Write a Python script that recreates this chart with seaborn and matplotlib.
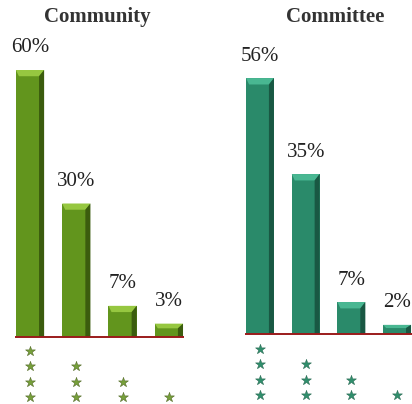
import matplotlib
matplotlib.use("Agg")
import matplotlib.pyplot as plt
import seaborn as sns
import pandas as pd
from matplotlib.patches import Polygon

# Response shares for each rating level (first level shown with four stars)
ratings = ["4 stars", "3 stars", "2 stars", "1 star"]
star_counts = [4, 3, 2, 1]
community_pct = [60, 30, 7, 3]
committee_pct = [56, 35, 7, 2]

sns.set_theme(style="white")
plt.rcParams["font.family"] = ["Liberation Serif", "DejaVu Serif"]

W, H = 412, 404
fig = plt.figure(figsize=(W / 100, H / 100), dpi=100)
fig.patch.set_facecolor("white")


def shade(ax, patch, light, dark):
    """Add a bevel look: light top cap and dark right side."""
    x, y = patch.get_x(), patch.get_y()
    w, h = patch.get_width(), patch.get_height()
    cap = min(1.4, h * 0.35)
    side = w * 0.18
    ax.add_patch(Polygon([(x, y + h), (x + w, y + h), (x + w - side, y + h - cap),
                          (x + side * 0.6, y + h - cap)], closed=True,
                         facecolor=light, edgecolor="none", zorder=3))
    ax.add_patch(Polygon([(x + w, y), (x + w, y + h), (x + w - side, y + h - cap),
                          (x + w - side, y)], closed=True,
                         facecolor=dark, edgecolor="none", zorder=3))


def panel(rect, title, values, main, light, dark, star_col, star_edge,
          xlim, ylim, title_x):
    ax = fig.add_axes(rect)
    df = pd.DataFrame({"rating": ratings, "pct": values})
    sns.barplot(data=df, x="rating", y="pct", color=main, saturation=1,
                width=0.61, ax=ax, zorder=2)
    bars = list(ax.patches[:len(values)])
    for p in bars:
        p.set_edgecolor("none")
        shade(ax, p, light, dark)
    for i, v in enumerate(values):
        ax.annotate(f"{v}%", (i, v), xytext=(0, 9), textcoords="offset points",
                    ha="center", va="bottom", fontsize=15, color="#222222")
    # baseline
    ax.plot([-0.32, len(values) - 1 + 0.32], [0, 0], color="#9b1b1b", lw=1.4,
            zorder=4, solid_capstyle="butt")
    # star rows under each bar
    for i, n in enumerate(star_counts):
        ys = [-(13.4 - 3.4 * k) for k in range(n)]
        ax.scatter([i] * n, ys, marker="*", s=55, color=star_col,
                   edgecolor=star_edge, linewidth=0.4, zorder=3, clip_on=False)
    ax.set_xlim(*xlim)
    ax.set_ylim(*ylim)
    ax.axis("off")
    fig.text(title_x / W, 1 - 17 / H, title, ha="center", va="center",
             fontsize=15, fontweight="bold", color="#333333")
    return ax


panel([0, 0, 206 / W, 1], "Community", community_pct,
      "#62951d", "#96c740", "#3b5c0e", "#76a03a", "#556b2a",
      (-30 / 46.3, (206 - 30) / 46.3), (-67 / 4.45, (H - 67) / 4.45), 97)
panel([206 / W, 0, 206 / W, 1], "Committee", committee_pct,
      "#2a8a6a", "#49b792", "#195843", "#2f8f6c", "#2b6b55",
      (-54 / 45.7, (206 - 54) / 45.7), (-70 / 4.57, (H - 70) / 4.57), 335)

fig.savefig("out.png", dpi=100, facecolor="white")
